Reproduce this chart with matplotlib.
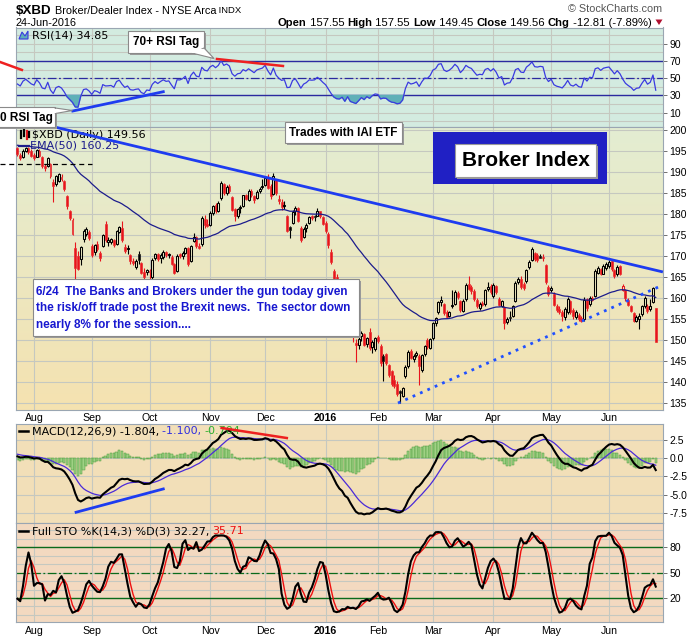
import numpy as np
import pandas as pd
import matplotlib
matplotlib.use('Agg')
import matplotlib.pyplot as plt
from matplotlib.patches import Rectangle, Polygon

W, H = 700, 639
SANS = ['Liberation Sans', 'DejaVu Sans']
LEG = ['DejaVu Sans']

# ---------------- data ($XBD daily) ----------------
holidays = ['2015-09-07', '2015-11-26', '2015-12-25', '2016-01-01',
            '2016-01-18', '2016-02-15', '2016-03-25', '2016-05-30']
dates = pd.bdate_range('2015-07-24', '2016-06-24')
dates = dates[~dates.isin(pd.to_datetime(holidays))]

opens = [
    195.6, 194.0, 193.5, 195.0, 195.6, 194.9,
    194.0, 193.6, 195.0, 193.6, 191.4, 191.4, 191.8, 187.6, 187.0, 187.8, 188.8, 187.8, 184.2, 180.6, 178.6, 171.8, 170.0, 169.2, 174.0, 175.2, 175.8,
    172.4, 171.0, 172.8, 170.8, 172.4, 177.6, 173.2, 173.4, 173.8, 172.9, 175.8, 176.6, 172.2, 171.6, 170.2, 168.8, 167.4, 170.4, 168.4, 166.2, 166.2,
    166.4, 165.0, 169.4, 170.4, 169.6, 169.8, 171.0, 170.2, 169.8, 168.0, 166.4, 170.4, 170.0, 170.8, 172.0, 168.8, 173.6, 174.4, 172.4, 172.8, 178.8, 177.6,
    177.4, 180.2, 182.0, 180.8, 183.8, 187.2, 185.0, 186.6, 184.0, 181.2, 179.4, 181.4, 181.8, 184.6, 183.4, 185.4, 184.2, 183.8, 185.4, 186.4,
    186.8, 188.8, 186.6, 184.8, 188.2, 183.6, 182.8, 181.8, 179.4, 176.8, 177.8, 180.8, 181.4, 176.6, 174.6, 176.6, 177.8, 179.6, 179.4, 179.6, 180.6, 179.2,
    177.8, 175.2, 171.0, 166.4, 165.0, 162.8, 163.0, 162.0, 157.6, 155.0, 153.8, 149.4, 148.8, 151.0, 151.4, 149.0, 152.0, 148.4, 147.8,
    150.8, 148.6, 146.2, 146.6, 144.0, 142.6, 140.6, 139.6, 137.8, 136.8, 141.4, 143.8, 147.4, 145.4, 146.4, 146.2, 143.0, 146.6, 150.0, 148.2,
    150.4, 154.0, 156.8, 159.0, 158.6, 156.6, 155.8, 158.0, 158.6, 161.2, 159.4, 157.0, 159.8, 163.4, 162.6, 161.6, 159.6, 157.6, 158.8, 158.6, 162.2, 162.8,
    160.4, 162.8, 159.8, 158.2, 157.8, 154.2, 155.6, 155.8, 159.4, 163.8, 164.6, 163.4, 164.0, 167.4, 169.0, 170.6, 170.2, 170.0, 169.8, 167.8, 162.6,
    161.8, 161.0, 158.2, 157.4, 156.8, 155.4, 156.6, 159.4, 157.2, 155.4, 156.0, 155.2, 155.0, 159.8, 158.6, 160.0, 160.4, 166.0, 167.0, 165.8, 167.2,
    167.6, 168.8, 166.6, 165.6, 167.6, 162.0, 161.8, 159.6, 158.0, 156.4, 154.6, 155.0, 156.2, 158.2, 158.0, 157.4, 159.0, 157.55,
]
highs = [
    195.9, 194.4, 195.3, 196.0, 195.9, 195.4,
    194.5, 195.5, 195.4, 193.8, 191.9, 193.6, 192.0, 188.2, 189.3, 189.8, 189.5, 188.0, 184.6, 181.0, 179.0, 173.4, 171.2, 172.4, 176.4, 176.8, 176.2,
    172.8, 172.8, 173.6, 171.2, 175.2, 178.2, 174.6, 174.2, 174.0, 176.2, 177.0, 178.4, 172.8, 172.6, 170.4, 169.6, 169.2, 171.2, 168.6, 167.2, 167.0,
    167.0, 169.4, 170.8, 170.8, 170.6, 171.4, 171.2, 170.8, 170.2, 168.4, 170.4, 170.8, 171.2, 172.2, 172.2, 172.6, 175.4, 174.8, 173.0, 179.4, 179.8, 178.8,
    180.6, 182.2, 182.6, 183.0, 187.8, 187.4, 186.8, 187.0, 184.2, 181.4, 181.4, 182.2, 184.6, 184.8, 185.8, 185.8, 184.6, 185.6, 186.4, 188.2,
    189.0, 189.4, 187.0, 189.6, 188.4, 184.4, 183.6, 183.0, 179.8, 177.2, 181.0, 181.8, 181.6, 177.0, 176.8, 177.8, 179.6, 179.8, 179.8, 181.4, 180.8, 179.4,
    178.4, 175.6, 171.6, 166.8, 165.6, 163.6, 164.2, 162.6, 160.4, 156.2, 154.6, 150.2, 151.0, 152.2, 151.6, 150.8, 152.8, 150.0, 150.8,
    151.2, 149.0, 146.6, 147.0, 144.4, 142.9, 141.6, 140.2, 138.2, 138.8, 144.0, 147.6, 148.0, 146.6, 147.4, 146.6, 146.8, 148.8, 150.6, 150.6,
    154.4, 155.6, 159.4, 160.4, 158.8, 157.2, 157.0, 162.0, 161.8, 161.6, 159.6, 159.8, 163.6, 165.2, 163.0, 162.2, 160.0, 159.0, 159.4, 162.2, 163.8, 163.4,
    163.6, 163.0, 160.2, 159.6, 158.0, 155.6, 157.0, 158.4, 164.0, 165.0, 165.2, 163.8, 167.0, 169.0, 172.2, 171.0, 170.8, 170.4, 170.4, 168.0, 163.0,
    162.8, 161.4, 158.6, 158.0, 157.2, 157.8, 160.2, 159.6, 157.6, 157.2, 156.4, 155.8, 160.2, 160.0, 160.4, 160.6, 166.8, 167.6, 167.2, 168.0, 168.6,
    169.0, 169.2, 166.8, 167.8, 167.8, 163.4, 162.2, 160.0, 158.4, 156.8, 156.0, 156.4, 158.4, 160.4, 158.6, 159.8, 162.6, 157.55,
]
lows = [
    193.8, 192.9, 193.3, 194.6, 194.3, 193.5,
    192.9, 193.4, 193.5, 191.0, 190.2, 191.2, 188.6, 182.9, 186.6, 187.6, 187.8, 185.4, 181.2, 178.6, 175.0, 164.6, 166.6, 167.8, 173.2, 174.8, 173.8,
    169.8, 170.2, 171.2, 168.8, 172.2, 173.4, 172.4, 172.8, 172.2, 172.6, 175.4, 173.2, 170.6, 170.4, 168.2, 167.8, 166.8, 168.2, 165.8, 164.2, 165.4,
    164.0, 164.4, 169.0, 168.8, 168.4, 169.2, 169.8, 169.4, 167.8, 165.6, 166.2, 169.4, 169.2, 170.4, 167.6, 168.6, 173.2, 172.0, 171.6, 172.4, 176.6, 176.8,
    177.0, 179.8, 180.2, 180.4, 183.4, 184.6, 184.6, 185.0, 180.6, 178.4, 179.0, 180.2, 181.6, 183.2, 183.0, 184.0, 182.6, 183.6, 185.0, 185.8,
    186.6, 185.8, 183.6, 184.4, 184.6, 182.4, 181.0, 181.2, 175.6, 174.2, 177.6, 179.8, 178.0, 173.4, 174.2, 175.8, 177.6, 178.6, 178.2, 179.4, 179.0, 177.4,
    175.4, 172.0, 168.0, 164.2, 161.8, 160.6, 161.2, 156.8, 155.6, 150.8, 149.6, 144.8, 147.8, 149.8, 148.6, 148.4, 147.6, 147.0, 147.4,
    149.4, 143.8, 140.2, 144.2, 141.2, 139.0, 138.6, 136.8, 135.0, 136.4, 141.0, 143.4, 145.4, 144.8, 146.0, 139.4, 142.4, 146.2, 148.0, 147.8,
    150.0, 153.4, 156.2, 158.2, 156.0, 155.2, 155.4, 157.6, 158.4, 159.8, 156.8, 156.6, 159.4, 161.8, 161.0, 159.4, 157.6, 157.2, 158.0, 158.2, 161.6, 161.0,
    160.0, 161.0, 158.0, 157.8, 152.6, 153.8, 154.6, 155.4, 159.0, 163.4, 162.2, 162.0, 163.6, 167.0, 168.8, 168.8, 168.6, 169.4, 168.8, 163.4, 160.4,
    161.4, 158.0, 156.8, 156.2, 154.6, 154.8, 156.2, 156.2, 155.0, 155.0, 154.6, 154.2, 154.6, 157.0, 158.2, 159.2, 160.2, 165.6, 165.4, 165.6, 166.6,
    167.2, 166.4, 164.8, 165.2, 165.4, 161.6, 159.4, 158.0, 156.6, 154.2, 154.2, 152.6, 155.8, 157.6, 156.4, 157.0, 158.8, 149.45,
]
closes = [
    194.2, 193.3, 195.0, 195.7, 194.8, 193.8,
    193.3, 195.1, 193.8, 191.4, 191.0, 193.2, 189.0, 186.6, 188.9, 189.4, 188.4, 185.8, 181.8, 178.9, 175.3, 167.2, 166.8, 172.1, 176.0, 176.4, 174.3,
    170.3, 172.5, 171.6, 169.6, 175.0, 173.7, 173.8, 174.0, 172.6, 175.9, 176.8, 173.8, 171.2, 172.0, 168.8, 168.4, 168.8, 169.0, 166.0, 165.0, 166.6,
    166.2, 169.0, 170.4, 169.2, 170.2, 171.0, 170.2, 170.4, 168.2, 166.0, 170.1, 170.0, 170.6, 171.8, 168.0, 172.4, 174.6, 172.4, 172.0, 179.0, 177.4, 177.0,
    180.3, 181.8, 180.6, 182.6, 187.4, 185.0, 186.4, 185.4, 181.0, 179.4, 181.2, 181.6, 184.4, 183.6, 185.4, 184.4, 183.4, 185.3, 186.0, 186.6,
    188.6, 186.2, 184.2, 189.0, 185.0, 183.0, 181.6, 182.0, 176.0, 176.2, 180.4, 181.4, 178.2, 173.8, 176.4, 177.4, 179.2, 179.0, 179.2, 180.8, 179.4, 177.6,
    176.0, 172.6, 168.6, 164.6, 162.4, 162.0, 162.8, 157.4, 159.6, 152.6, 150.8, 148.8, 150.2, 151.8, 148.9, 150.4, 148.2, 149.6, 150.4,
    149.9, 144.6, 145.0, 144.6, 141.6, 139.6, 139.0, 137.2, 137.4, 138.6, 143.6, 147.2, 145.8, 146.2, 147.0, 143.8, 146.4, 148.6, 148.4, 150.2,
    154.0, 155.2, 159.0, 159.6, 156.4, 155.6, 156.6, 158.4, 161.4, 160.2, 157.2, 159.4, 163.2, 162.2, 161.6, 159.8, 158.0, 158.6, 158.4, 161.8, 162.6, 161.4,
    163.0, 161.4, 158.4, 159.2, 154.0, 155.0, 155.2, 158.0, 163.6, 164.6, 162.6, 162.4, 166.6, 168.6, 171.6, 169.2, 169.0, 169.6, 169.4, 163.8, 161.0,
    162.4, 158.4, 157.2, 156.6, 155.8, 157.4, 159.8, 156.6, 155.8, 156.8, 155.0, 154.6, 159.6, 157.6, 160.0, 159.6, 166.4, 167.2, 165.8, 167.6, 168.2,
    168.6, 167.0, 165.2, 167.4, 165.8, 162.8, 160.0, 158.4, 157.0, 154.6, 155.6, 155.8, 158.0, 160.0, 157.0, 158.0, 162.37, 149.56,
]

# indicator states at the first bar
ema50_start = 196.3
ema12_start, ema26_start, signal_start = 194.9, 194.65, 0.55
rsi_gain_start, rsi_loss_start = 0.55, 0.72

# legend / header texts
header_vals = ['157.55', '157.55', '149.45', '149.56', '-12.81 (-7.89%)']
rsi_label, ema_label, px_label = '34.85', '160.25', '149.56'
macd_label = ['-1.804,', '-1.100,', '-0.704']
sto_label = ['32.27,', '35.71']

# trend lines drawn on the chart (bar index, value)
down_tl = ([8.0, 234.6], [201.5, 166.2])
up_tl = ([138.3, 234.6], [135.05, 163.1])
dash_lvl = ([-6.4, 27.1], [191.85, 191.85])
rsi_red_a = ([-6.4, 1.6], [69.0, 59.7])
rsi_red_b = ([72.5, 96.5], [72.4, 64.3])
rsi_blue = ([20.1, 53.0], [12.0, 34.4])
macd_red = ([74.2, 97.9], [4.16, 2.78])
macd_blue = ([21.3, 53.0], [-7.44, -4.23])

# ---------------- computations ----------------
o = np.array(opens); hi = np.array(highs); lo = np.array(lows); c = np.array(closes)
n = len(c)
assert n == len(dates) == len(o) == len(hi) == len(lo)
idx = np.arange(n)


def ema(vals, period, start):
    a = 2.0 / (period + 1)
    out = np.empty(len(vals))
    e = start
    out[0] = e
    for k in range(1, len(vals)):
        e += a * (vals[k] - e)
        out[k] = e
    return out


ema50 = ema(c, 50, ema50_start)
macd = ema(c, 12, ema12_start) - ema(c, 26, ema26_start)
sig = ema(macd, 9, signal_start)
hist = macd - sig

ag, al = rsi_gain_start, rsi_loss_start
rsi = [100 - 100 / (1 + ag / al)]
for k in range(1, n):
    ch = c[k] - c[k - 1]
    ag = (ag * 13 + max(ch, 0)) / 14
    al = (al * 13 + max(-ch, 0)) / 14
    rsi.append(100 - 100 / (1 + ag / al))
rsi = np.array(rsi)

rawk = []
for k in range(n):
    l14 = lo[max(0, k - 13):k + 1].min()
    h14 = hi[max(0, k - 13):k + 1].max()
    rawk.append(100 * (c[k] - l14) / (h14 - l14))
fullk = pd.Series(rawk).rolling(3, min_periods=1).mean().values
stod = pd.Series(fullk).rolling(3, min_periods=1).mean().values

month_idx = [k for k in range(1, n) if dates[k].month != dates[k - 1].month]
month_lbl = ['2016' if dates[k].month == 1 else dates[k].strftime('%b') for k in month_idx]

# ---------------- figure ----------------
fig = plt.figure(figsize=(W / 100, H / 100), dpi=100)
fig.patch.set_facecolor('white')


def rect(x0, y0, x1, y1):
    return [x0 / W, 1 - y1 / H, (x1 - x0) / W, (y1 - y0) / H]


XL = (-0.54, 234.64)
ax_r = fig.add_axes(rect(16, 27.5, 663, 127))
ax_p = fig.add_axes(rect(16, 127, 663, 410))
ax_m = fig.add_axes(rect(16, 424, 663, 523.3))
ax_s = fig.add_axes(rect(16, 523.3, 663, 622.3))
ax_o = fig.add_axes([0, 0, 1, 1], zorder=10)
ax_o.set_xlim(0, W); ax_o.set_ylim(H, 0); ax_o.axis('off'); ax_o.patch.set_alpha(0)

GRID = '#c5c8c0'
SPINE = '#9aa6b2'
LFS = 8.0


def grad_bg(ax, top, bot):
    t = np.array(matplotlib.colors.to_rgb(top)); b = np.array(matplotlib.colors.to_rgb(bot))
    f = np.linspace(0, 1, 256)[:, None]
    img = (t[None, :] * (1 - f) + b[None, :] * f)[:, None, :]
    ax.imshow(img, extent=[0, 1, 0, 1], transform=ax.transAxes, aspect='auto', zorder=0)


def style(ax, ylim, yt, ytl, hgrid):
    ax.set_xlim(*XL); ax.set_ylim(*ylim)
    for v in month_idx:
        ax.axvline(v, color=GRID, lw=0.8, zorder=0.5)
    for v in hgrid:
        ax.axhline(v, color=GRID, lw=0.8, zorder=0.5)
    ax.yaxis.tick_right()
    ax.set_yticks(yt); ax.set_yticklabels(ytl, fontfamily=SANS, fontsize=7.5)
    ax.tick_params(axis='y', length=3, width=0.7, color='#707070', pad=1.5)
    ax.set_xticks([])
    for s in ax.spines.values():
        s.set_color(SPINE); s.set_linewidth(0.8)


def month_labels(ax):
    ax.set_xticks(month_idx)
    ax.set_xticklabels(month_lbl, fontfamily=SANS, fontsize=7.6)
    for t, lab in zip(ax.get_xticklabels(), month_lbl):
        if lab == '2016':
            t.set_fontweight('bold')
    ax.tick_params(axis='x', length=0, pad=2.5)


r = fig.canvas.get_renderer()

# ---- RSI panel ----
ax_r.set_facecolor('#d3ebe0')
style(ax_r, (-6.6, 109), [90, 70, 50, 30, 10], ['90', '70', '50', '30', '10'], range(0, 110, 10))
ax_r.axhline(70, color='#2a2aa0', lw=1.0, zorder=2)
ax_r.axhline(30, color='#2a2aa0', lw=1.0, zorder=2)
ax_r.axhline(50, color='#2a2aa0', lw=0.9, ls=(0, (7, 2, 1.5, 2)), zorder=2)
ax_r.fill_between(idx, rsi, 30, where=rsi < 30, interpolate=True, color='#5fb0b8', zorder=2.5)
ax_r.plot(idx, rsi, color='#3a3ae0', lw=0.9, zorder=3)
ax_r.plot(*rsi_red_a, color='#ee2020', lw=1.8, clip_on=False, zorder=6)
ax_r.plot(*rsi_red_b, color='#ee2020', lw=1.8, clip_on=False, zorder=6)
ax_r.plot(*rsi_blue, color='#1e3cf0', lw=2.0, clip_on=False, zorder=6)
ax_r.text(31.5, 35, 'RSI(14) ' + rsi_label, transform=ax_o.transData, fontfamily=LEG,
          fontsize=LFS, va='center', ha='left', zorder=4)
ax_r.add_patch(Polygon([[19, 39], [22, 32], [25, 36], [28, 31], [28, 39]], closed=True,
                       transform=ax_o.transData, facecolor='#5fb0b8', edgecolor='#3a3ae0',
                       lw=0.8, clip_on=False, zorder=4))

# ---- price panel ----
grad_bg(ax_p, '#e3edd2', '#f5e2b0')
style(ax_p, (133.4, 200.64), list(range(200, 134, -5)), [str(v) for v in range(200, 134, -5)],
      range(135, 201, 5))
month_labels(ax_p)
prev = np.concatenate([[o[0]], c[:-1]])
col = np.where(c >= prev, '#000000', '#e8141c')
btm = np.minimum(o, c); top = np.maximum(o, c)
bh = np.maximum(top - btm, 0.12)
ax_p.vlines(idx, lo, btm, colors=col, lw=0.8, zorder=3)
ax_p.vlines(idx, top, hi, colors=col, lw=0.8, zorder=3)
hol = c > o
ax_p.bar(idx[~hol], bh[~hol], bottom=btm[~hol], width=0.72, color=col[~hol],
         edgecolor=col[~hol], lw=0.4, zorder=3)
ax_p.bar(idx[hol], bh[hol], bottom=btm[hol], width=0.72, facecolor='none',
         edgecolor=col[hol], lw=0.75, zorder=3)
ax_p.plot(idx, ema50, color='#1c1c8c', lw=0.9, zorder=3.5)
ax_p.plot(*down_tl, color='#1e3cf0', lw=2.0, clip_on=False, zorder=6, solid_capstyle='butt')
ax_p.plot(*up_tl, color='#2050ff', lw=2.0, ls=(0, (1, 1.9)), zorder=6)
ax_p.plot(*dash_lvl, color='black', lw=0.9, ls=(0, (4, 3)), clip_on=False, zorder=6)
ax_p.text(31.5, 134.5, '$XBD (Daily) ' + px_label, transform=ax_o.transData, fontfamily=LEG,
          fontsize=LFS, va='center', ha='left', zorder=4)
ax_p.text(30, 145.5, 'EMA(50) ' + ema_label, transform=ax_o.transData, fontfamily=LEG,
          fontsize=LFS, va='center', ha='left', color='#1c1c8c', zorder=4)
ax_p.plot([19, 29], [145.5, 145.5], transform=ax_o.transData, color='#1c1c8c', lw=1.6,
          clip_on=False, zorder=4)
for xx, yy0, yy1, cc in [(20.5, 131, 138, 'black'), (23.5, 130, 136, 'black'),
                         (26.5, 131, 139, '#e8141c'), (29, 132, 137, 'black')]:
    ax_p.plot([xx, xx], [yy0, yy1], transform=ax_o.transData, color=cc, lw=1.6,
              clip_on=False, zorder=4)

# ---- MACD panel ----
ax_m.set_facecolor('#f2dfb8')
style(ax_m, (-8.96, 4.71), [2.5, 0.0, -2.5, -5.0, -7.5], ['2.5', '0.0', '-2.5', '-5.0', '-7.5'],
      [2.5, 0.0, -2.5, -5.0, -7.5])
ax_m.bar(idx, hist, width=0.85, color='#9fd184', edgecolor='#4c9a3c', lw=0.35, zorder=2)
ax_m.plot(idx, sig, color='#4a2ad8', lw=0.9, zorder=3)
ax_m.plot(idx, macd, color='black', lw=1.5, zorder=3.5)
ax_m.plot(*macd_red, color='#ee2020', lw=1.8, clip_on=False, zorder=6)
ax_m.plot(*macd_blue, color='#1e3cf0', lw=2.0, clip_on=False, zorder=6)
ax_m.plot([19, 28], [431, 431], transform=ax_o.transData, color='black', lw=1.8,
          clip_on=False, zorder=4)
xx = 31.5
for s, cc in [('MACD(12,26,9) ' + macd_label[0] + ' ', 'black'), (macd_label[1] + ' ', '#3030e0'),
              (macd_label[2], '#30b030')]:
    t = ax_m.text(xx, 431, s, transform=ax_o.transData, fontfamily=LEG, fontsize=LFS,
                  va='center', ha='left', color=cc, zorder=4)
    xx += t.get_window_extent(renderer=r).width

# ---- STO panel ----
ax_s.set_facecolor('#f3d9c0')
style(ax_s, (-8.8, 108.4), [80, 50, 20], ['80', '50', '20'], range(0, 101, 10))
month_labels(ax_s)
ax_s.axhline(80, color='#0a6a1a', lw=1.0, zorder=2)
ax_s.axhline(20, color='#0a6a1a', lw=1.0, zorder=2)
ax_s.axhline(50, color='#0a6a1a', lw=0.9, ls=(0, (7, 2, 1.5, 2)), zorder=2)
ax_s.plot(idx, stod, color='#ee1010', lw=1.0, zorder=3)
ax_s.plot(idx, fullk, color='black', lw=1.5, zorder=3.5)
ax_s.plot([19, 28], [531, 531], transform=ax_o.transData, color='black', lw=1.8,
          clip_on=False, zorder=4)
xx = 31.5
for s, cc in [('Full STO %K(14,3) %D(3) ' + sto_label[0] + ' ', 'black'), (sto_label[1], '#ee1010')]:
    t = ax_s.text(xx, 531, s, transform=ax_o.transData, fontfamily=LEG, fontsize=LFS,
                  va='center', ha='left', color=cc, zorder=4)
    xx += t.get_window_extent(renderer=r).width

# ---------------- header ----------------
xx = 16
for s, wgt, sz in [('$XBD', 'bold', 9.6), (' Broker/Dealer Index - NYSE Arca', 'normal', 7.8),
                   (' INDX', 'normal', 6.8)]:
    t = ax_o.text(xx, 10.5, s, fontfamily=SANS, fontweight=wgt, fontsize=sz, va='center', ha='left')
    xx += t.get_window_extent(renderer=r).width
ax_o.text(16, 22.5, '24-Jun-2016', fontfamily=SANS, fontsize=7.8, va='center', ha='left')
ax_o.text(662, 9, '\u00a9 StockCharts.com', fontfamily=SANS, fontsize=7.8, va='center',
          ha='right', color='#555555')
xx = 278
parts = [('Open', 'bold'), (' ' + header_vals[0] + ' ', 'normal'), ('High', 'bold'),
         (' ' + header_vals[1] + ' ', 'normal'), ('Low', 'bold'), (' ' + header_vals[2] + ' ', 'normal'),
         ('Close', 'bold'), (' ' + header_vals[3] + ' ', 'normal'), ('Chg', 'bold'),
         (' ' + header_vals[4], 'normal')]
for s, wgt in parts:
    t = ax_o.text(xx, 22.5, s, fontfamily=SANS, fontweight=wgt, fontsize=8.1, va='center', ha='left')
    xx += t.get_window_extent(renderer=r).width
ax_o.add_patch(Polygon([[655.5, 19.5], [662.5, 19.5], [659, 25]], closed=True,
                       facecolor='#b01030', edgecolor='none'))


# ---------------- annotation boxes (pixel coordinates) ----------------
def box(x0, y0, x1, y1, shadow=True, fc='white', ec='#8a8a8a', lw=0.8):
    if shadow:
        ax_o.add_patch(Rectangle((x0 + 2, y0 + 2), x1 - x0, y1 - y0, facecolor='#9a9a9a',
                                 edgecolor='none'))
    ax_o.add_patch(Rectangle((x0, y0), x1 - x0, y1 - y0, facecolor=fc, edgecolor=ec, lw=lw))


# 70+ RSI Tag
ax_o.add_patch(Polygon([[194, 52], [204, 47], [215, 59.5]], closed=True, facecolor='#9a9a9a',
                       edgecolor='none'))
box(128, 30.7, 204, 53.3)
ax_o.add_patch(Polygon([[193, 53.3], [204, 48], [214, 58.5]], closed=True, facecolor='white',
                       edgecolor='#8a8a8a', lw=0.8))
ax_o.add_patch(Rectangle((192, 48.5), 11.5, 4.6, facecolor='white', edgecolor='none'))
ax_o.text(166, 42.5, '70+ RSI Tag', fontfamily=SANS, fontweight='bold', fontsize=8.5,
          va='center', ha='center')
# (3)0 RSI Tag, box runs off the left edge as in the original
box(-6, 107.3, 55.3, 127.5)
ax_o.add_patch(Polygon([[55.3, 108], [55.3, 113.5], [72.5, 110.5]], closed=True,
                       facecolor='white', edgecolor='#8a8a8a', lw=0.8))
ax_o.add_patch(Rectangle((53.5, 108.6), 2.4, 4.4, facecolor='white', edgecolor='none'))
ax_o.text(0.5, 118, '0 RSI Tag', fontfamily=SANS, fontweight='bold', fontsize=8.5,
          va='center', ha='left')
# Trades with IAI ETF
box(285, 121.7, 402, 143.3)
ax_o.text(343.5, 132.5, 'Trades with IAI ETF', fontfamily=SANS, fontweight='bold',
          fontsize=8.5, va='center', ha='center')
# Broker Index
ax_o.add_patch(Rectangle((432.7, 132.3), 174, 52, facecolor='#2020c4', edgecolor='none'))
box(455.3, 144, 595.7, 176.7, shadow=True, ec='#9a9a9a')
ax_o.text(525.5, 160.5, 'Broker Index', fontfamily=SANS, fontweight='bold', fontsize=15,
          va='center', ha='center')
# big comment
box(33.3, 279.3, 359.3, 336)
for k, line in enumerate(['6/24  The Banks and Brokers under the gun today given',
                          'the risk/off trade post the Brexit news.  The sector down',
                          'nearly 8% for the session....']):
    ax_o.text(35.5, 291.7 + k * 16.7, line, fontfamily=SANS, fontweight='bold', fontsize=8.5,
              va='center', ha='left', color='#1818d0')

fig.savefig('out.png', dpi=100)
